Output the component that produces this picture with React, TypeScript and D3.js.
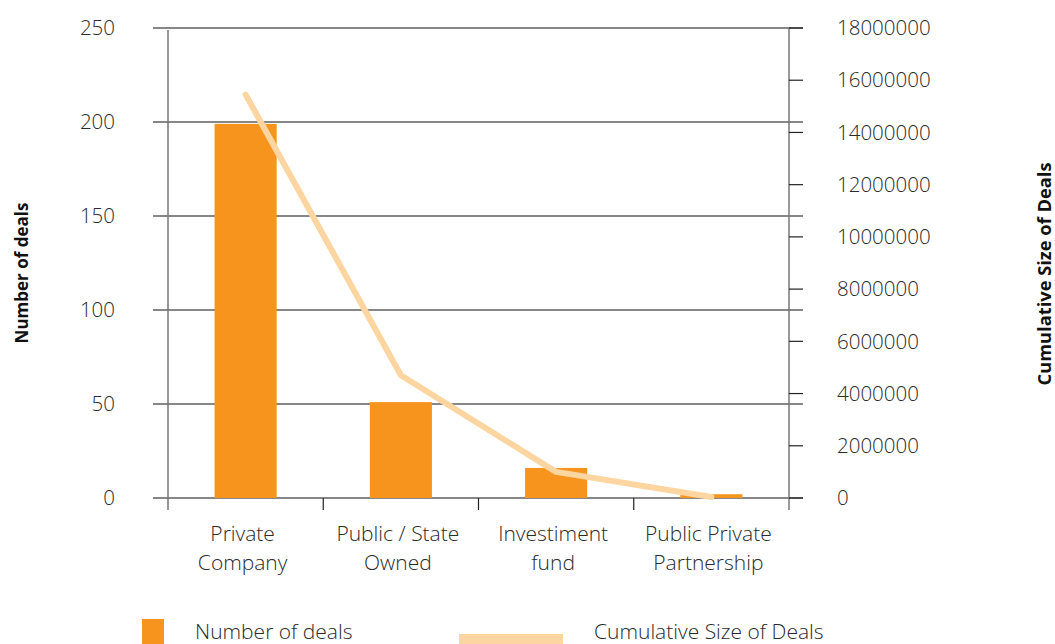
import React from 'react';
import * as d3 from 'd3';

const categories = ['Private Company', 'Public / State Owned', 'Investiment fund', 'Public Private Partnership'];
const categoryLines = [['Private', 'Company'], ['Public / State', 'Owned'], ['Investiment', 'fund'], ['Public Private', 'Partnership']];
const dealCounts = [199, 51, 16, 2];
const cumulativeSize = [15450000, 4700000, 1000000, 40000];
const leftTicks = [0, 50, 100, 150, 200, 250];
const rightTicks = [0, 2000000, 4000000, 6000000, 8000000, 10000000, 12000000, 14000000, 16000000, 18000000];

const W = 1055;
const H = 644;
const font = "'Open Sans', sans-serif";
const barColor = '#F7941D';
const lineColor = '#FDD5A1';
const textColor = '#2a2a2a';

const App = () => {
  const x0 = 168, x1 = 789, yTop = 28, yBot = 498;
  const x = d3.scaleBand().domain(categories).range([x0, x1]).paddingInner(0.6).paddingOuter(0.3);
  const yLeft = d3.scaleLinear().domain([0, 250]).range([yBot, yTop]);
  const yRight = d3.scaleLinear().domain([0, 18000000]).range([yBot, yTop]);
  const step = (x1 - x0) / categories.length;
  const center = (c: string) => (x(c) as number) + x.bandwidth() / 2;

  const line = d3.line<number>()
    .x((_, i) => center(categories[i]))
    .y(d => yRight(d));

  return (
    <svg width={W} height={H} style={{ position: 'absolute', left: 0, top: 0 }} fontFamily={font}>
      {/* gridlines */}
      {leftTicks.map(t => (
        <line key={t} x1={153} x2={803} y1={yLeft(t)} y2={yLeft(t)} stroke="#111" strokeWidth={1.2} />
      ))}
      {/* bars */}
      {dealCounts.map((v, i) => (
        <rect key={i} x={x(categories[i])} width={x.bandwidth()} y={yLeft(v)} height={yBot - yLeft(v)} fill={barColor} />
      ))}
      {/* axes */}
      <line x1={x0} x2={x0} y1={yTop + 2} y2={510} stroke="#777" strokeWidth={1.5} />
      <line x1={x1} x2={x1} y1={yTop} y2={510} stroke="#777" strokeWidth={1.5} />
      {d3.range(1, categories.length).map(i => (
        <line key={i} x1={x0 + step * i} x2={x0 + step * i} y1={yBot} y2={510} stroke="#222" strokeWidth={1.2} />
      ))}
      {rightTicks.map(t => (
        <line key={t} x1={x1} x2={803} y1={yRight(t)} y2={yRight(t)} stroke="#222" strokeWidth={1.2} />
      ))}
      {/* cumulative line */}
      <path d={line(cumulativeSize) || ''} fill="none" stroke={lineColor} strokeWidth={6} strokeLinejoin="round" strokeLinecap="round" />
      {/* left tick labels */}
      {leftTicks.map(t => (
        <text key={t} x={115} y={yLeft(t)} dy="0.35em" textAnchor="end" fontSize={20.5} fontWeight={300} fill={textColor}>{t}</text>
      ))}
      {/* right tick labels */}
      {rightTicks.map(t => (
        <text key={t} x={837} y={yRight(t)} dy="0.35em" fontSize={20.5} fontWeight={300} fill={textColor}>{t}</text>
      ))}
      {/* category labels */}
      {categoryLines.map((ls, i) => (
        <text key={i} x={center(categories[i])} y={541} textAnchor="middle" fontSize={21} fontWeight={300} fill={textColor}>
          {ls.map((l, j) => <tspan key={j} x={center(categories[i]) - 3} dy={j === 0 ? 0 : 29}>{l}</tspan>)}
        </text>
      ))}
      {/* axis titles */}
      <text transform="translate(28,273) rotate(-90)" textAnchor="middle" fontSize={17} fontWeight={700} fill="#111">Number of deals</text>
      <text transform="translate(1051,274) rotate(-90)" textAnchor="middle" fontSize={18.3} fontWeight={700} fill="#111">Cumulative Size of Deals</text>
      {/* legend */}
      <rect x={142} y={619} width={22} height={25} fill={barColor} />
      <text x={195} y={639} fontSize={21} fontWeight={300} fill={textColor}>Number of deals</text>
      <rect x={459} y={634} width={104} height={10} fill={lineColor} />
      <text x={594} y={639} fontSize={21} fontWeight={300} fill={textColor}>Cumulative Size of Deals</text>
    </svg>
  );
};

export default App;
